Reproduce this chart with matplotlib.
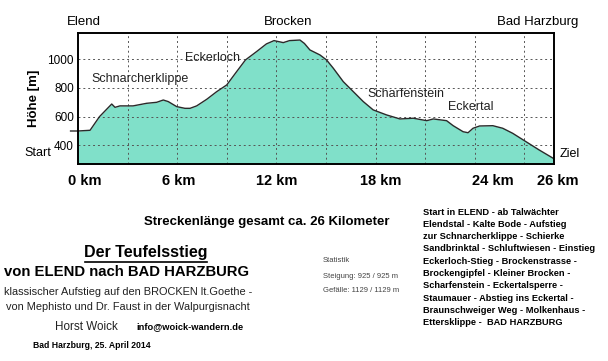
import matplotlib.pyplot as plt

# Höhenprofil Teufelsstieg
km = [-0.45, 0.0, 0.73, 1.3, 2.04, 2.24, 2.54, 3.33, 4.15, 4.76, 5.16, 5.46, 5.97,
      6.47, 6.78, 7.18, 7.79, 8.39, 9.0, 9.6, 10.13, 10.8, 11.4, 11.86, 12.42,
      12.8, 13.43, 13.7, 14.03, 14.64, 15.04, 15.45, 16.05, 16.66, 17.26, 17.86,
      18.67, 19.48, 20.29, 21.1, 21.5, 22.3, 22.7, 23.3, 23.6, 23.9, 24.3, 25.1,
      25.7, 26.3, 27.1, 27.9, 28.75]
hoehe = [500, 500, 505, 600, 688, 665, 675, 675, 693, 700, 716, 705, 670,
         658, 658, 675, 721, 774, 821, 914, 995, 1053, 1107, 1130, 1116,
         1130, 1134, 1110, 1065, 1030, 995, 937, 844, 774, 705, 647,
         612, 584, 589, 572, 584, 572, 537, 495, 488, 519, 535, 537,
         519, 484, 426, 368, 310]

km_labels = ['0 km', '6 km', '12 km', '18 km', '24 km', '26 km']
km_label_pos = [0.4, 6.1, 12.0, 18.3, 25.1, 29.0]
y_ticks = [400, 600, 800, 1000]

orte = ['Schnarcherklippe', 'Eckerloch', 'Scharfenstein', 'Eckertal']
orte_x = [0.8, 6.5, 17.5, 22.4]
orte_y = [860, 1010, 760, 670]

route = ['Start in ELEND - ab Talwächter',
         'Elendstal - Kalte Bode - Aufstieg',
         'zur Schnarcherklippe - Schierke',
         'Sandbrinktal - Schluftwiesen - Einstieg',
         'Eckerloch-Stieg - Brockenstrasse -',
         'Brockengipfel - Kleiner Brocken -',
         'Scharfenstein - Eckertalsperre -',
         'Staumauer - Abstieg ins Eckertal -',
         'Braunschweiger Weg - Molkenhaus -',
         'Ettersklippe -  BAD HARZBURG']

plt.rcParams['font.family'] = ['Liberation Sans', 'DejaVu Sans']

fig = plt.figure(figsize=(6.08, 3.61), dpi=100)
fig.patch.set_facecolor('white')
ax = fig.add_axes([78 / 608, 1 - 164 / 361, 476 / 608, 131 / 361])

x_fill = [k for k in km if k >= 0]
y_fill = hoehe[len(km) - len(x_fill):]
ax.fill_between(x_fill, y_fill, 270, color='#80e0c9', lw=0)
ax.plot(km, hoehe, color='#2a2a2a', lw=1.0, clip_on=False, zorder=3)

ax.set_xlim(0, 28.8)
ax.set_ylim(270, 1183)
ax.set_xticks([3 * i for i in range(1, 10)])
ax.set_xticklabels([])
ax.set_yticks(y_ticks)
ax.set_yticklabels([str(v) for v in y_ticks], fontsize=8.5)
ax.tick_params(length=0, pad=3)
ax.grid(True, color='#555555', ls=(0, (2, 3)), lw=0.7)
ax.set_axisbelow(False)
for s in ax.spines.values():
    s.set_linewidth(1.4)
    s.set_zorder(4)
ax.set_ylabel('Höhe [m]', fontsize=9.5, fontweight='bold', labelpad=5)

for name, x, y in zip(orte, orte_x, orte_y):
    ax.text(x, y, name, fontsize=9, color='#222222', va='center', zorder=5)

for lab, x in zip(km_labels, km_label_pos):
    ax.text(x, -0.13, lab, transform=ax.get_xaxis_transform(), ha='center',
            va='center', fontsize=10.5, fontweight='bold', clip_on=False)

fig.text(84 / 608, 1 - 22 / 361, 'Elend', ha='center', va='center', fontsize=9.5)
fig.text(288 / 608, 1 - 22 / 361, 'Brocken', ha='center', va='center', fontsize=9.5)
fig.text(538 / 608, 1 - 22 / 361, 'Bad Harzburg', ha='center', va='center', fontsize=9.5)
fig.text(38 / 608, 1 - 153 / 361, 'Start', ha='center', va='center', fontsize=9)
fig.text(570 / 608, 1 - 154 / 361, 'Ziel', ha='center', va='center', fontsize=9)

fig.text(267 / 608, 1 - 222 / 361, 'Streckenlänge gesamt ca. 26 Kilometer',
         ha='center', va='center', fontsize=9.5, fontweight='bold')
fig.text(146 / 608, 1 - 253 / 361, 'Der Teufelsstieg', ha='center', va='center',
         fontsize=11.5, fontweight='bold')
fig.add_artist(plt.Line2D([85 / 608, 207 / 608], [1 - 262 / 361, 1 - 262 / 361],
                          color='black', lw=1.2))
fig.text(126 / 608, 1 - 272 / 361, 'von ELEND nach BAD HARZBURG', ha='center',
         va='center', fontsize=10.7, fontweight='bold')
fig.text(128 / 608, 1 - 292 / 361, 'klassischer Aufstieg auf den BROCKEN lt.Goethe -',
         ha='center', va='center', fontsize=7.9, color='#222222')
fig.text(128 / 608, 1 - 307 / 361, 'von Mephisto und Dr. Faust in der Walpurgisnacht',
         ha='center', va='center', fontsize=7.9, color='#222222')
fig.text(86 / 608, 1 - 327 / 361, 'Horst Woick', ha='center', va='center',
         fontsize=8.4, color='#222222')
fig.text(190 / 608, 1 - 327 / 361, 'info@woick-wandern.de', ha='center', va='center',
         fontsize=6.7, fontweight='bold')
fig.text(92 / 608, 1 - 346 / 361, 'Bad Harzburg, 25. April 2014', ha='center',
         va='center', fontsize=6.2, fontweight='bold')

fig.text(323 / 608, 1 - 261 / 361, 'Statistik', ha='left', va='center',
         fontsize=5.5, color='#444444')
fig.text(323 / 608, 1 - 277 / 361, 'Steigung: 925 / 925 m', ha='left', va='center',
         fontsize=5.5, color='#444444')
fig.text(323 / 608, 1 - 290 / 361, 'Gefälle: 1129 / 1129 m', ha='left', va='center',
         fontsize=5.5, color='#444444')

for i, line in enumerate(route):
    fig.text(423 / 608, 1 - (212 + i * 12.3) / 361, line, ha='left', va='center',
             fontsize=6.7, fontweight='bold')

fig.savefig('out.png', dpi=100, facecolor='white')
